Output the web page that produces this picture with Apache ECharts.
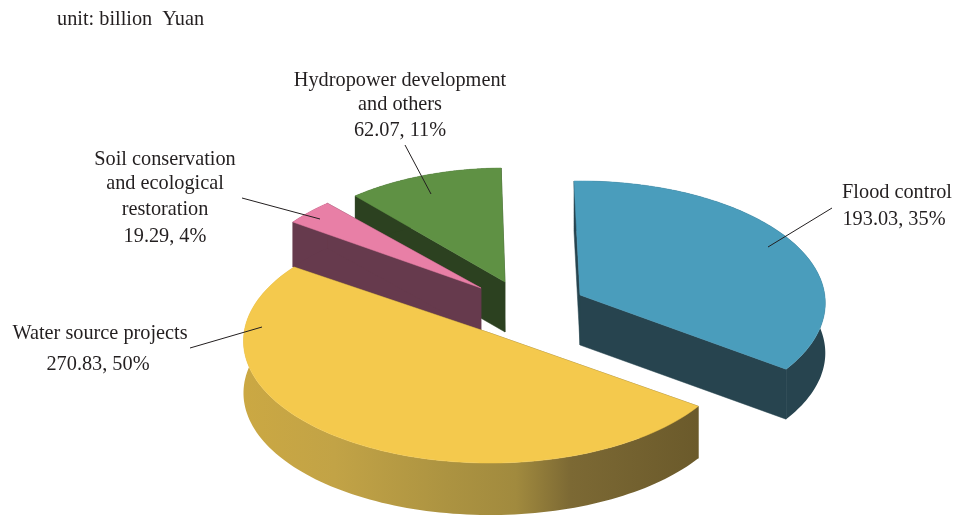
<!DOCTYPE html>
<html>
<head>
<meta charset="utf-8">
<style>html,body{margin:0;padding:0;background:#fff}#c{width:955px;height:516px}</style>
<script src="https://cdn.jsdelivr.net/npm/echarts@6/dist/echarts.min.js"></script>
</head>
<body>
<div id="c"></div>
<script>
// ---- data ----
const unitLabel = 'unit: billion  Yuan';
const categories = ['Flood control', 'Water source projects', 'Soil conservation and ecological restoration', 'Hydropower development and others'];
const values = [193.03, 270.83, 19.29, 62.07];
const percents = [35, 50, 4, 11];

// ---- layout (not data) ----
const FONT = '20.3px "Liberation Serif", serif';
const R = 246, RY = 121.5, PERSP = 0.0656, START_DEG = -1;
const apexes = [[580, 295], [490, 333], [481, 288], [505, 282]];
const scaleX = [0.995, 1, 0.96, 0.955];
const rotateAdj = [-0.5, -1, -1, 0];
const depth = [50, 52, 45, 50];
const drawOrder = [3, 2, 1, 0];
const topColors = ['#4a9dbc', '#f4c94d', '#e87fa6', '#5f9144'];
const sideColors = ['#27444f', '#6b5a2b', '#663a4d', '#2c4120'];
const labelLines = [
  [['Flood control', 897, 192.5], ['193.03, 35%', 894, 219.5]],
  [['Water source projects', 100, 333.5], ['270.83, 50%', 98, 364.5]],
  [['Soil conservation', 165, 159.5], ['and ecological', 165, 183.5], ['restoration', 165, 209.5], ['19.29, 4%', 165, 236.5]],
  [['Hydropower development', 400, 80.5], ['and others', 400, 104.5], ['62.07, 11%', 400, 130.5]]
];
const leaders = [
  [832, 208, 768, 247],
  [190, 348, 262, 327],
  [242, 198, 320, 219],
  [405, 145, 431, 194]
];
const yellowWall = new echarts.graphic.LinearGradient(243, 0, 698, 0, [
  { offset: 0, color: '#cba843' },
  { offset: 0.2, color: '#c2a346' },
  { offset: 0.45, color: '#ac9341' },
  { offset: 0.6, color: '#a18a3e' },
  { offset: 0.72, color: '#7c6934' },
  { offset: 1, color: '#6b5a2b' }
], true);

// ---- geometry: angles come from the values ----
const total = values.reduce((a, b) => a + b, 0);
function sliceAngles(i) {
  let s = START_DEG + rotateAdj[i];
  for (let k = 0; k < i; k++) s += values[k] / total * 360;
  return [s, s + values[i] / total * 360];
}
function pt(i, deg) {
  const t = deg * Math.PI / 180, u = Math.sin(t), v = -Math.cos(t), d = 1 - PERSP * v;
  return [apexes[i][0] + scaleX[i] * R * u / d, apexes[i][1] + RY * v / d];
}
function arcPts(i) {
  const [a, b] = sliceAngles(i), out = [], n = 120;
  for (let k = 0; k <= n; k++) out.push(pt(i, a + (b - a) * k / n));
  return out;
}
function poly(points, fill, stroke) {
  return { type: 'polygon', shape: { points }, style: { fill, stroke: stroke || fill, lineWidth: 0.5 } };
}
function renderSlice(params, api) {
  const i = api.value(0), h = depth[i], arc = arcPts(i), ap = apexes[i];
  const down = p => [p[0], p[1] + h];
  const first = arc[0], last = arc[arc.length - 1];
  const side = sideColors[i];
  const children = [
    poly([first, ap, down(ap), down(first)], side),
    poly([last, ap, down(ap), down(last)], side),
    poly(arc.concat(arc.slice().reverse().map(down)), i === 1 ? yellowWall : side, 'none'),
    poly([ap].concat(arc), topColors[i])
  ];
  return { type: 'group', children };
}

const graphicEls = [{
  type: 'text', x: 57, y: 19.5,
  style: { text: unitLabel, font: FONT, fill: '#231f20', textAlign: 'left', textVerticalAlign: 'middle' }
}];
labelLines.forEach(rows => rows.forEach(r => graphicEls.push({
  type: 'text', x: r[1], y: r[2], z: 10,
  style: { text: r[0], font: FONT, fill: '#231f20', textAlign: 'center', textVerticalAlign: 'middle' }
})));
leaders.forEach(l => graphicEls.push({
  type: 'line', z: 10,
  shape: { x1: l[0], y1: l[1], x2: l[2], y2: l[3] },
  style: { stroke: '#231f20', lineWidth: 1 }
}));

const chart = echarts.init(document.getElementById('c'));
chart.setOption({
  animation: false,
  backgroundColor: '#fff',
  graphic: { elements: graphicEls },
  series: [{
    type: 'custom',
    coordinateSystem: 'none',
    renderItem: renderSlice,
    silent: true,
    clip: false,
    data: drawOrder.map(i => ({ name: categories[i], value: [i, values[i], percents[i]] }))
  }]
});
</script>
</body>
</html>
